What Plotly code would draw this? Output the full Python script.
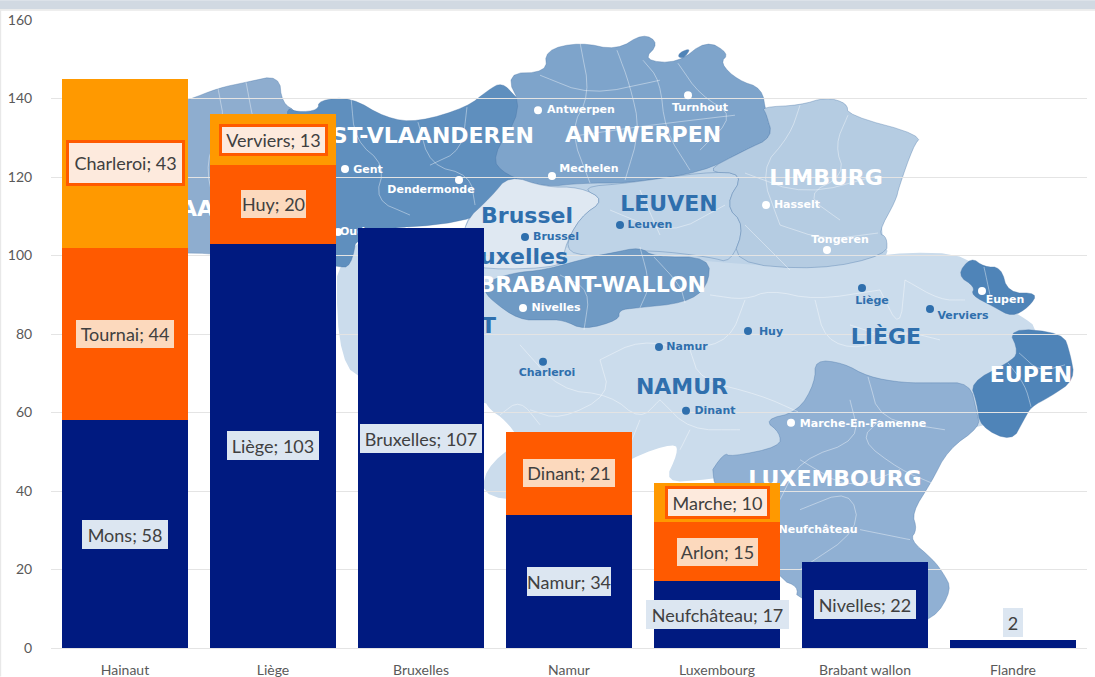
import plotly.graph_objects as go

# ---------- chart data ----------
categories = ["Hainaut", "Liège", "Bruxelles", "Namur", "Luxembourg", "Brabant wallon", "Flandre"]
first_values = [58, 103, 107, 34, 17, 22, 2]
first_names = ["Mons", "Liège", "Bruxelles", "Namur", "Neufchâteau", "Nivelles", ""]
second_values = [44, 20, 0, 21, 15, 0, 0]
second_names = ["Tournai", "Huy", "", "Dinant", "Arlon", "", ""]
third_values = [43, 13, 0, 0, 10, 0, 0]
third_names = ["Charleroi", "Verviers", "", "", "Marche", "", ""]
y_ticks = [0, 20, 40, 60, 80, 100, 120, 140, 160]

NAVY, ORANGE, AMBER = "#001a80", "#ff5a00", "#ff9900"
TXT = "#404040"
W, H = 1095, 677
L, R, T, B = 51, 1087, 19.7, 648.5

# ---------- decorative background map (pixel outlines of the pictured image) ----------
def px(x, y):
    return (x - L) / (R - L), (B - y) / (B - T)

def chaikin(points, closed, rounds=2):
    pts = list(points)
    for _ in range(rounds):
        out = [pts[0]] if not closed else []
        n = len(pts)
        for i in range(n if closed else n - 1):
            a, b = pts[i], pts[(i + 1) % n]
            out.append((0.75 * a[0] + 0.25 * b[0], 0.75 * a[1] + 0.25 * b[1]))
            out.append((0.25 * a[0] + 0.75 * b[0], 0.25 * a[1] + 0.75 * b[1]))
        if not closed:
            out.append(pts[-1])
        pts = out
    return pts

def poly(points, fill, line="rgba(70,115,165,0.45)", width=0.8, close=True):
    d = ""
    for i, (x, y) in enumerate(chaikin(points, close)):
        a, b = px(x, y)
        d += ("M" if i == 0 else "L") + f"{a:.4f},{b:.4f} "
    if close:
        d += "Z"
    return dict(type="path", path=d, xref="paper", yref="paper", layer="below",
                fillcolor=fill if close else "rgba(0,0,0,0)", line=dict(color=line, width=width))

under = [(463, 218), (505, 170), (745, 145), (800, 100), (852, 112), (885, 175), (880, 233), (892, 262), (819, 280), (563, 275), (463, 270)]
wallonia = [(337, 235), (470, 225), (563, 250), (731, 263), (819, 270), (887, 252), (975, 254), (990, 300),
            (1020, 315), (1040, 330), (1030, 400), (985, 430), (900, 430), (780, 470), (706, 480),
            (664, 483), (678, 453), (675, 443), (633, 457), (560, 500), (484, 500), (484, 470), (520, 440), (505, 420), (490, 410),
            (484, 400), (358, 385), (337, 345)]
west_vl = [(150, 110), (188, 100), (218, 88), (246, 82), (279, 75), (282, 103), (298, 112), (340, 180), (337, 240), (300, 265), (207, 252), (150, 255)]
oost_vl = [(284, 107), (298, 112), (318, 110), (319, 100), (351, 97), (386, 118), (418, 122), (467, 107), (488, 90), (502, 82),
           (516, 97), (530, 110), (510, 150), (520, 185), (500, 200), (467, 223), (358, 230), (351, 267), (337, 267), (290, 255),
           (285, 200), (298, 160)]
antwerp = [(505, 73), (547, 72), (545, 50), (580, 42), (617, 50), (643, 33), (659, 43), (643, 60), (678, 63), (706, 40), (729, 53),
           (720, 63), (738, 80), (762, 88), (766, 113), (773, 137), (745, 150), (703, 172), (629, 183), (580, 183), (545, 187), (505, 175), (491, 157), (523, 110)]
turnhout_isle = [(680, 52), (691, 48), (684, 58), (678, 57)]
brussels = [(463, 223), (491, 197), (509, 175), (545, 187), (580, 187), (605, 200), (580, 217), (563, 250), (566, 267), (484, 270), (463, 260)]
leuven = [(580, 187), (629, 183), (703, 172), (745, 173), (725, 205), (745, 225), (731, 263), (710, 257), (650, 250), (612, 253), (591, 257),
          (563, 250), (580, 217), (605, 200)]
limburg = [(703, 172), (745, 150), (773, 137), (766, 113), (762, 107), (800, 105), (826, 97), (847, 103), (848, 115), (922, 135), (913, 147), (899, 187),
           (896, 200), (878, 233), (887, 237), (887, 255), (819, 270), (731, 263), (745, 225), (725, 205), (745, 173)]
brabant = [(484, 283), (512, 273), (545, 270), (591, 257), (612, 253), (640, 247), (654, 257), (710, 257), (708, 287), (685, 303), (636, 308), (619, 310),
           (619, 320), (584, 330), (563, 320), (545, 320), (519, 320), (491, 300), (484, 290)]
luxembourg = [(815, 360), (843, 363), (868, 377), (903, 383), (936, 383), (970, 383), (977, 413), (980, 427), (948, 450), (931, 483), (912, 513),
              (917, 530), (910, 540), (933, 560), (943, 573), (952, 590), (934, 620), (900, 625), (796, 600), (798, 587), (780, 580), (706, 480),
              (724, 453), (731, 457), (780, 447), (780, 433), (764, 420), (798, 412), (815, 383)]
eupen_n = [(971, 257), (984, 267), (1001, 267), (1008, 293), (1038, 293), (1029, 307), (1012, 317), (994, 307), (971, 295), (975, 287), (957, 275)]
eupen_s = [(1008, 328), (1063, 333), (1070, 353), (1075, 380), (1050, 397), (1031, 407), (1024, 420), (1012, 442), (980, 427), (977, 403), (970, 383), (1008, 363), (1019, 353)]

inner = [
    [(218, 88), (225, 125), (205, 160), (215, 210)], [(246, 82), (255, 130), (280, 170), (285, 230)],
    [(351, 97), (355, 140), (385, 165), (375, 200), (410, 215)], [(418, 122), (430, 165), (470, 175), (475, 205)],
    [(467, 107), (462, 150), (430, 165)], [(580, 42), (590, 95), (570, 130), (590, 183)], [(617, 50), (630, 85), (640, 130), (625, 180)],
    [(643, 60), (660, 80), (665, 130), (690, 170)], [(678, 63), (700, 95), (735, 115), (700, 150)], [(540, 75), (590, 95), (660, 80)],
    [(580, 135), (650, 125), (735, 115)], [(800, 105), (790, 135), (760, 170), (780, 225)], [(848, 115), (835, 145), (845, 175), (805, 195), (840, 220)],
    [(745, 173), (805, 195), (880, 175)], [(610, 210), (670, 235), (725, 205)], [(640, 190), (660, 235)], [(780, 225), (825, 240), (878, 233)],
    [(745, 225), (790, 270)], [(640, 247), (650, 285), (640, 308)], [(560, 275), (590, 290), (584, 330)], [(654, 257), (680, 285), (685, 303)],
    [(710, 295), (745, 300), (770, 290), (815, 300), (880, 290)], [(745, 300), (730, 340), (690, 350), (640, 340), (600, 360)],
    [(815, 300), (825, 340), (860, 350), (900, 330), (940, 340)], [(880, 290), (900, 330), (905, 280)], [(520, 345), (560, 390), (610, 395), (640, 420), (660, 400)],
    [(600, 360), (610, 395), (560, 420), (530, 410)], [(690, 350), (700, 380), (760, 395), (798, 412)], [(660, 400), (690, 430), (740, 430)],
    [(640, 420), (620, 470)], [(690, 430), (680, 450)], [(850, 400), (860, 440), (800, 460), (780, 500)], [(868, 377), (880, 420), (945, 430)],
    [(880, 420), (860, 440), (900, 470), (931, 483)], [(800, 460), (850, 490), (900, 470)], [(800, 510), (850, 490), (860, 530), (800, 570)],
    [(860, 530), (910, 540)], [(1019, 353), (1040, 372), (1065, 365)], [(1008, 363), (1025, 385), (1031, 407)], [(984, 267), (990, 295)],
    [(905, 280), (940, 300), (965, 300)], [(880, 335), (850, 325)], [(500, 415), (520, 400), (540, 425)],
]

shapes = [
    dict(type="rect", xref="paper", yref="paper", x0=px(0, 0)[0], x1=px(W, 0)[0], y0=px(0, 0)[1], y1=px(0, 9)[1],
         fillcolor="#d1d9e2", line_width=0, layer="below"),
    dict(type="rect", xref="paper", yref="paper", x0=px(0, 0)[0], x1=px(W, 0)[0], y0=px(0, 9)[1], y1=px(0, 10.5)[1],
         fillcolor="#e8e8e8", line_width=0, layer="below"),
    dict(type="rect", xref="paper", yref="paper", x0=px(0, 0)[0], x1=px(1.2, 0)[0], y0=px(0, 10)[1], y1=px(0, H)[1],
         fillcolor="#e8e8e8", line_width=0, layer="below"),
    poly(under, "#bed3e7", line="rgba(0,0,0,0)", width=0), poly(wallonia, "#cbdcec", line="rgba(0,0,0,0)", width=0),
    poly(west_vl, "#8eadcf"), poly(oost_vl, "#5f8fbe"),
    poly(antwerp, "#7ea4cb"), poly(turnhout_isle, "#4f84b8"), poly(brussels, "#dfe8f2"), poly(leuven, "#bed3e7"), poly(limburg, "#b5cce2"),
    poly(brabant, "#6f9ac4"), poly(luxembourg, "#90b0d3"), poly(eupen_n, "#4f84b8"), poly(eupen_s, "#4f84b8"),
]
shapes += [poly(p, "", line="rgba(255,255,255,0.5)", width=0.8, close=False) for p in inner]

BLUE = "#2f6fad"
big_labels = [
    ("AA", 197, 210, "white", "middle center"), ("ST-VLAANDEREN", 534, 137, "white", "middle left"),
    ("ANTWERPEN", 643, 136, "white", "middle center"), ("LIMBURG", 826, 179, "white", "middle center"),
    ("LEUVEN", 669, 205, BLUE, "middle center"), ("Brussel", 527, 217, BLUE, "middle center"),
    ("Bruxelles", 568, 258, BLUE, "middle left"), ("BRABANT-WALLON", 706, 287, "white", "middle left"),
    ("HAINAUT", 496, 328, BLUE, "middle left"), ("LIÈGE", 886, 339, BLUE, "middle center"),
    ("NAMUR", 682, 389, BLUE, "middle center"), ("LUXEMBOURG", 835, 481, "white", "middle center"),
    ("EUPEN", 1031, 377, "white", "middle center"),
]
small_labels = [
    ("Antwerpen", 581, 110, "white"), ("Turnhout", 700, 108, "white"), ("Gent", 368, 170, "white"),
    ("Dendermonde", 431, 190, "white"), ("Mechelen", 589, 169, "white"), ("Brussel", 556, 237, BLUE),
    ("Leuven", 650, 225, BLUE), ("Hasselt", 797, 205, "white"), ("Tongeren", 840, 240, "white"),
    ("Nivelles", 556, 308, "white"), ("Charleroi", 547, 373, BLUE), ("Liège", 872, 301, BLUE),
    ("Verviers", 963, 316, BLUE), ("Huy", 771, 332, BLUE), ("Namur", 687, 347, BLUE), ("Dinant", 715, 411, BLUE),
    ("Marche-En-Famenne", 863, 424, "white"), ("Neufchâteau", 818, 531, "white"), ("Eupen", 1005, 300, "white"),
    ("Oudenaarde", 378, 232, "white"),
]
dots = [(538, 110, "white"), (688, 95, "white"), (345, 169, "white"), (459, 180, "white"), (552, 176, "white"),
        (525, 237, BLUE), (620, 225, BLUE), (766, 205, "white"), (827, 250, "white"), (523, 308, "white"),
        (543, 362, BLUE), (862, 288, BLUE), (930, 309, BLUE), (748, 331, BLUE), (659, 347, BLUE), (686, 411, BLUE),
        (791, 423, "white"), (982, 291, "white"), (338, 232, "white")]

fig = go.Figure()

# map lettering lives on the base subplot so the bars of the overlay subplot cover it
for t, x, y, c, pos in big_labels:
    fig.add_trace(go.Scatter(x=[x], y=[y], mode="text", text=[t], textposition=pos, hoverinfo="skip", showlegend=False,
                             textfont=dict(family="DejaVu Sans", size=22, color=c, weight=700)))
for t, x, y, c in small_labels:
    fig.add_trace(go.Scatter(x=[x], y=[y], mode="text", text=[t], hoverinfo="skip", showlegend=False,
                             textfont=dict(family="DejaVu Sans", size=11, color=c, weight=700)))
fig.add_trace(go.Scatter(x=[d[0] for d in dots], y=[d[1] for d in dots], mode="markers", hoverinfo="skip", showlegend=False,
                         marker=dict(size=8, color=[d[2] for d in dots], line_width=0)))

# ---------- bars ----------
for vals, col, name in [(first_values, NAVY, "Premier"), (second_values, ORANGE, "Deuxième"), (third_values, AMBER, "Troisième")]:
    fig.add_trace(go.Bar(x=categories, y=vals, name=name, marker=dict(color=col, line_width=0), xaxis="x2", yaxis="y2", showlegend=False))

# ---------- data labels ----------
def label(cat, txt, y, bg, w, h, border=None, bw=0):
    return dict(xref="x2", yref="y2", x=cat, y=y, text=txt, showarrow=False, font=dict(family="Lato", size=18, color=TXT),
                bgcolor=bg, width=w, height=h, borderpad=0, bordercolor=border or "rgba(0,0,0,0)", borderwidth=bw, align="center", valign="middle")

BLUE_BG, OR_BG, LT_BG = "#dce6f1", "#fcd9bd", "#fdeadd"
ann = []
first_box = {"Mons": 86, "Liège": 92, "Bruxelles": 122, "Namur": 84, "Neufchâteau": 143, "Nivelles": 102}
for c, n, v in zip(categories, first_names, first_values):
    if n:
        ann.append(label(c, f"{n}; {v}", v / 2, BLUE_BG, first_box[n], 29))
    else:
        ann.append(label(c, f"{v}", v + 4.4, BLUE_BG, 20, 29))
second_box = {"Tournai": 98, "Huy": 65, "Dinant": 92, "Arlon": 81}
for c, n, v, b in zip(categories, second_names, second_values, first_values):
    if n:
        ann.append(label(c, f"{n}; {v}", b + v / 2, OR_BG, second_box[n], 28))
third_box = {"Charleroi": (113, 40), "Verviers": (103, 26), "Marche": (99, 27)}
for c, n, v, a, b in zip(categories, third_names, third_values, first_values, second_values):
    if n:
        w, h = third_box[n]
        ann.append(label(c, f"{n}; {v}", a + b + v / 2, LT_BG, w, h, ORANGE, 3))

GRID = "#e4e4e4"
fig.update_layout(
    width=W, height=H, autosize=False, margin=dict(l=L, r=W - R, t=T, b=H - B, pad=0, autoexpand=False),
    paper_bgcolor="white", plot_bgcolor="rgba(0,0,0,0)", barmode="stack", bargap=0.15, showlegend=False,
    font=dict(family="Lato", color="#595959", size=14), shapes=shapes, annotations=ann,
    xaxis=dict(range=[L, R], visible=False, fixedrange=True),
    yaxis=dict(range=[B, T], visible=False, fixedrange=True),
    xaxis2=dict(overlaying="x", anchor="y2", type="category", categoryorder="array", categoryarray=categories, automargin=False,
                showgrid=False, showline=True, linecolor=GRID, linewidth=1, zeroline=False,
                ticks="outside", ticklen=9, tickcolor="rgba(0,0,0,0)", tickfont=dict(family="Lato", size=14, color="#595959")),
    yaxis2=dict(overlaying="y", anchor="x2", side="left", range=[0, 160], tickvals=y_ticks, showgrid=True, gridcolor=GRID, gridwidth=1,
                automargin=False, zeroline=False, showline=False, ticks="outside", ticklen=15, tickcolor="rgba(0,0,0,0)",
                tickfont=dict(family="Lato", size=14, color="#595959")),
)

fig.write_html("out.html", config=dict(displayModeBar=False),
               post_script="document.body.style.margin='0';document.body.style.overflow='hidden';")
